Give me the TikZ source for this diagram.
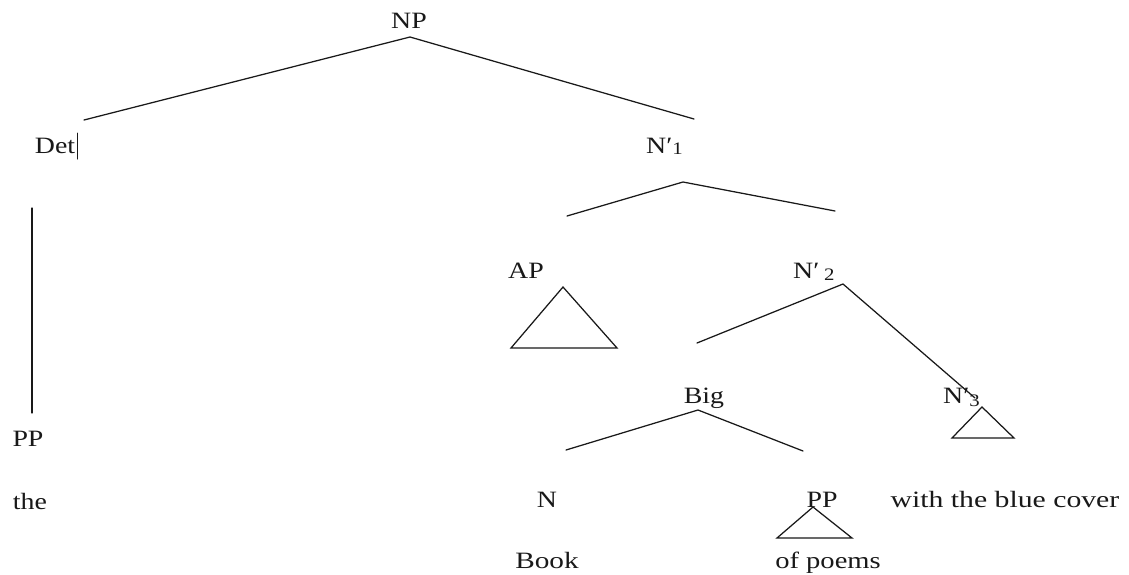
\documentclass[tikz,border=0pt]{standalone}
\usepackage{fontspec}
\setmainfont{Liberation Serif}
\newcommand\widetext[2][1.19]{\scalebox{#1}[1]{#2}}
\newcommand\subidx[2]{\raisebox{#1}{\fontsize{17.5}{17.5}\selectfont #2}}
\begin{document}
\begin{tikzpicture}[x=1pt,y=-1pt,
  lbl/.style={inner sep=0pt, anchor=base, text=black!90, font=\fontsize{23.4}{27}\selectfont},
  lblw/.style={lbl, anchor=base west},
  branch/.style={draw=black!90, line width=1.25pt, line cap=round, line join=miter},
  tri/.style={branch}]
\useasboundingbox (0,0) rectangle (1129,574);
\fill[white] (0,0) rectangle (1129,574);

% labels
\node[lbl]  (np)   at (409,28)  {\widetext{NP}};
\node[lbl]  (det)  at (55,153)  {\widetext{Det}};
\node[lblw] (nb1)  at (646,153) {\widetext{N′\subidx{-1.5pt}{1}}};
\node[lbl]  (ap)   at (526,278) {\widetext{AP}};
\node[lblw] (nb2)  at (793,278) {\widetext{N′\,\subidx{-2pt}{2}}};
\node[lbl]  (big)  at (704,403) {\widetext{Big}};
\node[lblw] (nb3)  at (943,403) {\widetext{N′\subidx{-3pt}{3}}};
\node[lbl]  (ppl)  at (28,446)  {\widetext{PP}};
\node[lbl]  (the)  at (30,509)  {\widetext{the}};
\node[lbl]  (n)    at (547,507) {\widetext{N}};
\node[lbl]  (ppr)  at (822,507) {\widetext{PP}};
\node[lbl]  (cover) at (1005,507) {\widetext[1.27]{with the blue cover}};
\node[lbl]  (book) at (547,568) {\widetext[1.25]{Book}};
\node[lbl]  (poems) at (828,568) {\widetext[1.22]{of poems}};

% branch end points
\coordinate (np-top) at (410,37);
\coordinate (det-end) at (84,120);
\coordinate (nb1-end) at (694,119);
\coordinate (cursor-a) at (77,133);
\coordinate (cursor-b) at (77,159);
\coordinate (det-low) at (32,208);
\coordinate (ppl-top) at (32,413);
\coordinate (nb1-top) at (683,182);
\coordinate (ap-end) at (567,216);
\coordinate (nb2-end) at (835,211);
\coordinate (nb2-top) at (843,284);
\coordinate (big-end) at (697,343);
\coordinate (nb3-end) at (975,398);
\coordinate (big-top) at (698,410);
\coordinate (n-end) at (566,450);
\coordinate (ppr-end) at (803,451);

% branches
\draw[branch] (det-end) -- (np-top) -- (nb1-end);
\draw[branch, line width=1pt] (cursor-a) -- (cursor-b);
\draw[branch] (det-low) -- (ppl-top);
\draw[branch] (ap-end) -- (nb1-top) -- (nb2-end);
\draw[branch] (big-end) -- (nb2-top) -- (nb3-end);
\draw[branch] (n-end) -- (big-top) -- (ppr-end);

% roof triangles
\coordinate (ap-a) at (563,287);
\coordinate (ap-b) at (511,348);
\coordinate (ap-c) at (617,348);
\draw[tri] (ap-a) -- (ap-b) -- (ap-c) -- cycle;
\coordinate (nb3-a) at (982,407);
\coordinate (nb3-b) at (952,438);
\coordinate (nb3-c) at (1014,438);
\draw[tri] (nb3-a) -- (nb3-b) -- (nb3-c) -- cycle;
\coordinate (ppr-a) at (813,507);
\coordinate (ppr-b) at (777,538);
\coordinate (ppr-c) at (852,538);
\draw[tri] (ppr-a) -- (ppr-b) -- (ppr-c) -- cycle;
\end{tikzpicture}
\end{document}
